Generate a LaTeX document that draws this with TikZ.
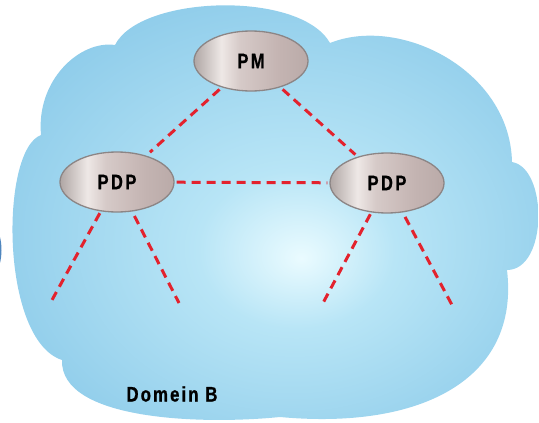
\documentclass[tikz,border=0pt]{standalone}
\usepackage{fontspec}
\setmainfont{Liberation Sans}
\newfontfamily\nodefont[FakeStretch=0.78,LetterSpace=12,FakeBold=0.8]{Liberation Sans Bold}
\newfontfamily\domainfont[FakeStretch=0.8,LetterSpace=10,FakeBold=0.8]{Liberation Sans Bold}
\usetikzlibrary{shapes.geometric}
\definecolor{cloudblue}{HTML}{8BCAE9}
\definecolor{cloudmid}{HTML}{B8E5F6}
\definecolor{cloudglow}{HTML}{EAFBFF}
\definecolor{linkred}{HTML}{E3222D}
\definecolor{rimgrey}{HTML}{8C8585}
\definecolor{farblue}{HTML}{4F86BE}
\pgfdeclareradialshading{cloudshade}{\pgfpoint{2.5bp}{-5.5bp}}{%
  color(0bp)=(cloudglow); color(9bp)=(cloudmid); color(30bp)=(cloudblue); color(50bp)=(cloudblue)}
\pgfdeclarehorizontalshading{metal}{100bp}{%
  color(0bp)=(rgb,255:red,128;green,118;blue,117);
  color(22bp)=(rgb,255:red,160;green,150;blue,148);
  color(37bp)=(rgb,255:red,238;green,232;blue,230);
  color(45bp)=(rgb,255:red,214;green,202;blue,200);
  color(62bp)=(rgb,255:red,196;green,180;blue,178);
  color(85bp)=(rgb,255:red,178;green,163;blue,161);
  color(100bp)=(rgb,255:red,130;green,120;blue,119)}
\tikzset{
  server/.style={ellipse, shading=metal, draw=rimgrey, line width=1.3pt,
    minimum width=114pt, minimum height=60pt, inner sep=0pt, font=\nodefont\fontsize{21}{21}\selectfont},
  link/.style={draw=linkred, line width=3pt, dash pattern=on 9pt off 6pt},
}
\begin{document}
\begin{tikzpicture}[x=1pt,y=-1pt]
\useasboundingbox (0,0) rectangle (539,423);
% neighbouring domain peeking in at the left edge
\fill[farblue] (-30,205) .. controls (12,215) and (12,285) .. (-30,295) -- cycle;
% the domain cloud: one outline of seven lobes
\shade[shading=cloudshade]
  (41,135) .. controls (36,80) and (80,40) .. (115,45)
  .. controls (140,-5) and (300,-10) .. (330,43)
  .. controls (400,15) and (510,70) .. (512,162)
  .. controls (548,168) and (548,270) .. (507,270)
  .. controls (520,380) and (420,430) .. (280,417)
  .. controls (200,425) and (60,420) .. (62,360)
  .. controls (0,340) and (0,150) .. (41,135) -- cycle;
% servers
\node[server] (pm) at (251,61) {PM};
\node[server] (pdpl) at (117,182) {PDP};
\node[server] (pdpr) at (387,183) {PDP};
% loose ends of the links below the PDPs
\coordinate (l1) at (52,300);
\coordinate (l2) at (179,303);
\coordinate (r1) at (323,303);
\coordinate (r2) at (452,305);
% links
\path[link, shorten <=3pt, shorten >=5pt] (pm) -- (pdpl);
\path[link, shorten <=3pt, shorten >=3pt] (pm) -- (pdpr);
\path[link, shorten <=2pt, shorten >=2pt] (pdpl) -- (pdpr);
\path[link, shorten <=2pt] (pdpl) -- (l1);
\path[link, shorten <=5pt] (pdpl) -- (l2);
\path[link, shorten <=2pt] (pdpr) -- (r1);
\path[link, shorten <=5pt] (pdpr) -- (r2);
\node[font=\domainfont\fontsize{21}{21}\selectfont] (dom) at (172,394) {Domein B};
\end{tikzpicture}
\end{document}
